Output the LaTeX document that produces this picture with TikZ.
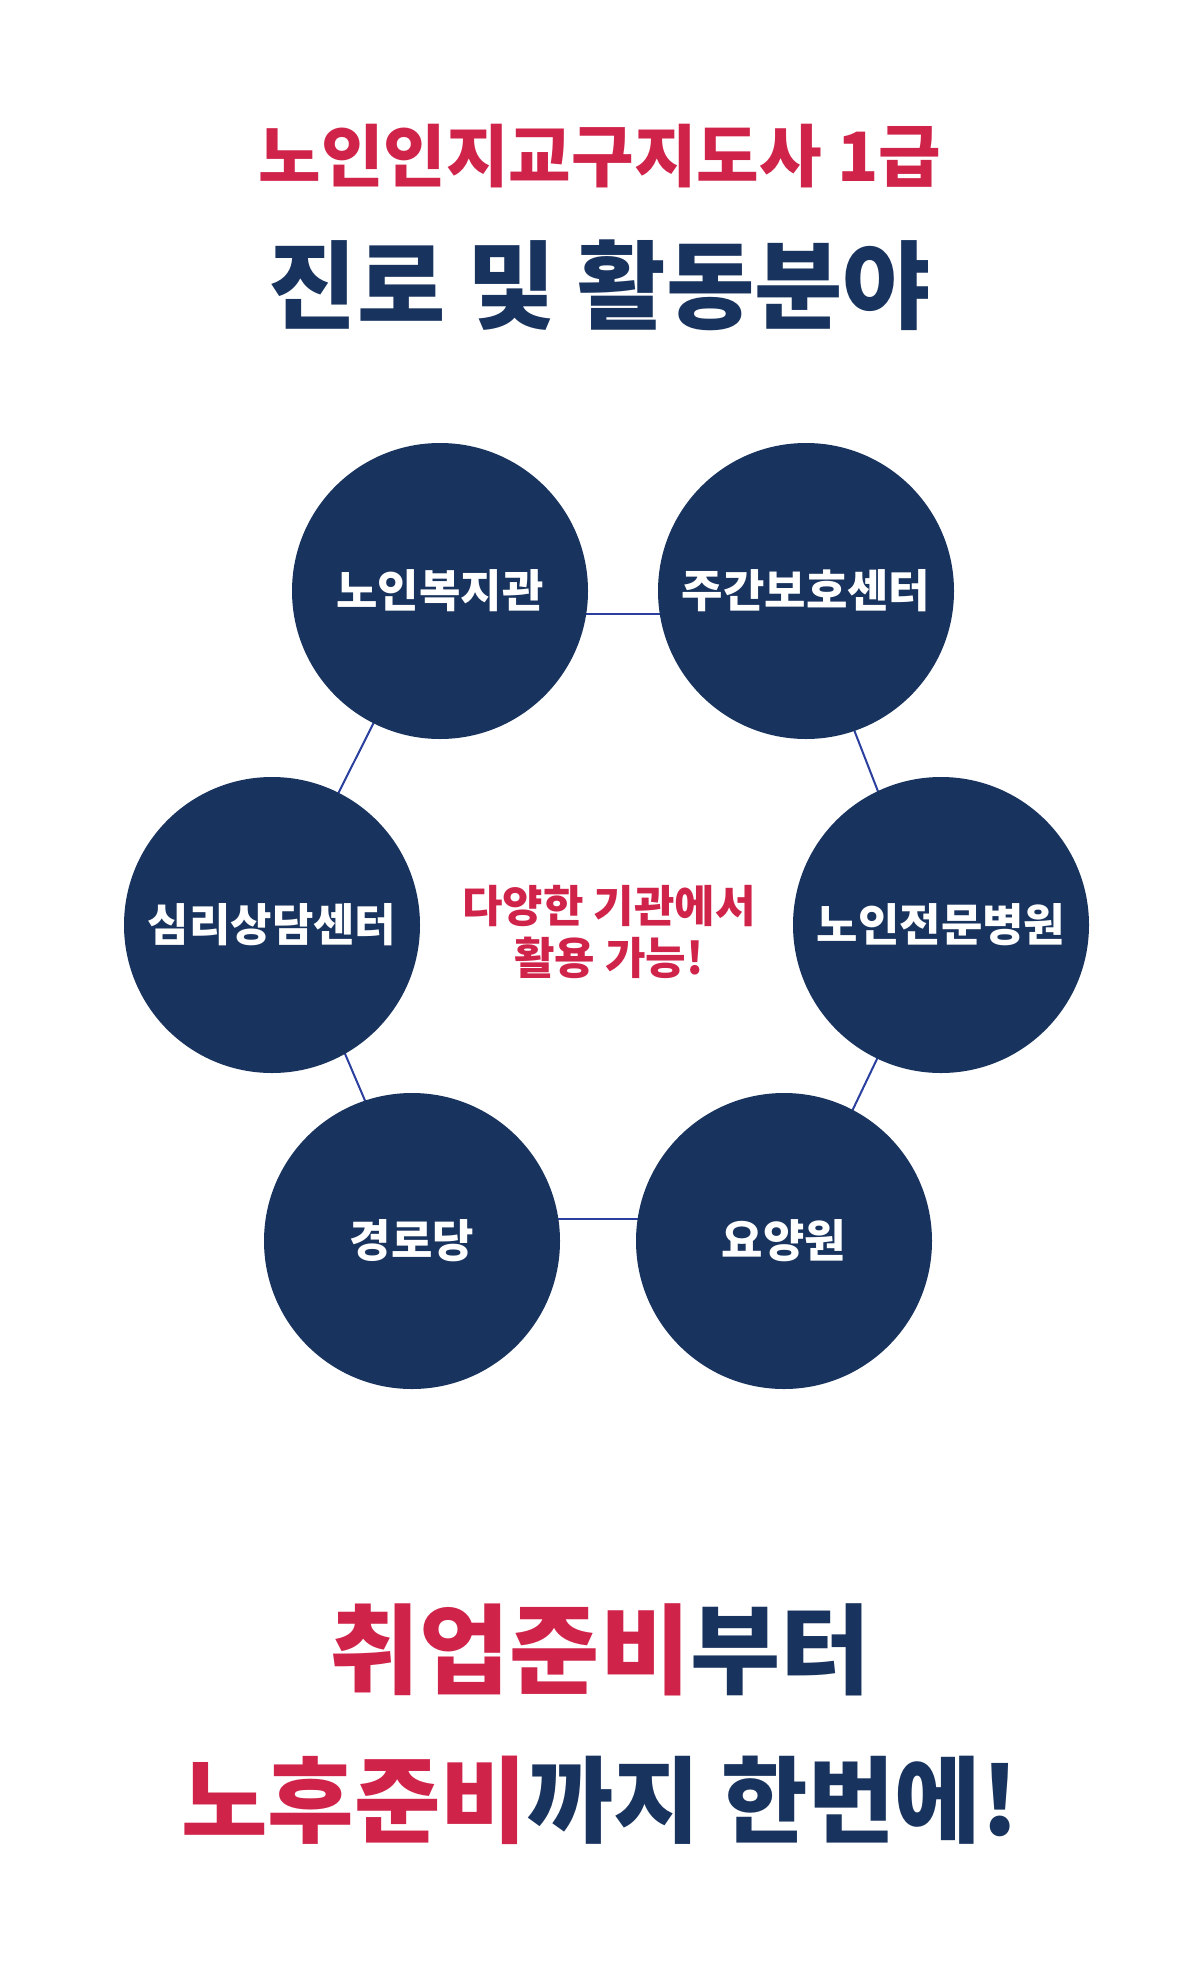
\documentclass[tikz,border=0pt]{standalone}
\usepackage{fontspec}
\setmainfont{Noto Sans CJK KR}
\definecolor{navy}{HTML}{18335E}
\definecolor{rd}{HTML}{D0234A}
\definecolor{ln}{HTML}{2B3F9E}
\tikzset{circ/.style={circle,fill=navy,minimum size=296pt,inner sep=0pt,text=white,font=\fontsize{45}{50}\selectfont\bfseries},
 conn/.style={draw=ln,line width=2pt}}
\begin{document}
\begin{tikzpicture}[x=1pt,y=-1pt]
\useasboundingbox (0,0) rectangle (1200,1961);
\node (t1) at (600,156) {\fontsize{68}{76}\selectfont\bfseries\color{rd}노인인지교구지도사 1급};
\node (t2) at (600,285) {\fontsize{96}{104}\selectfont\bfseries\color{navy}진로 및 활동분야};
\coordinate (a1) at (440,614); \coordinate (b1) at (806,614);
\coordinate (c1) at (784,1219); \coordinate (d1) at (412,1219);
\coordinate (l1) at (290,925); \coordinate (l2) at (425,1241);
\coordinate (r1) at (930,925); \coordinate (r2) at (790,1241);
\coordinate (r0) at (800,591);
\draw[conn] (a1) -- (b1);
\draw[conn] (d1) -- (c1);
\draw[conn] (440,591) -- (272,925);
\draw[conn] (r0) -- (r1);
\draw[conn] (l1) -- (l2);
\draw[conn] (941,925) -- (r2);
\node[circ] (n1) at (440,591) {노인복지관};
\node[circ] (n2) at (806,591) {주간보호센터};
\node[circ] (n3) at (272,925) {심리상담센터};
\node[circ] (n4) at (941,925) {노인전문병원};
\node[circ] (n5) at (412,1241) {경로당};
\node[circ] (n6) at (784,1241) {요양원};
\node[align=center,text=rd,font=\fontsize{44}{52}\selectfont\bfseries] (mid) at (609,932) {다양한 기관에서\\활용 가능!};
\node (b1t) at (600,1650) {\fontsize{98}{110}\selectfont\bfseries\color{rd}취업준비\color{navy}부터};
\node (b2t) at (600,1800) {\fontsize{94}{110}\selectfont\bfseries\color{rd}노후준비\color{navy}까지 한번에!};
\end{tikzpicture}
\end{document}
